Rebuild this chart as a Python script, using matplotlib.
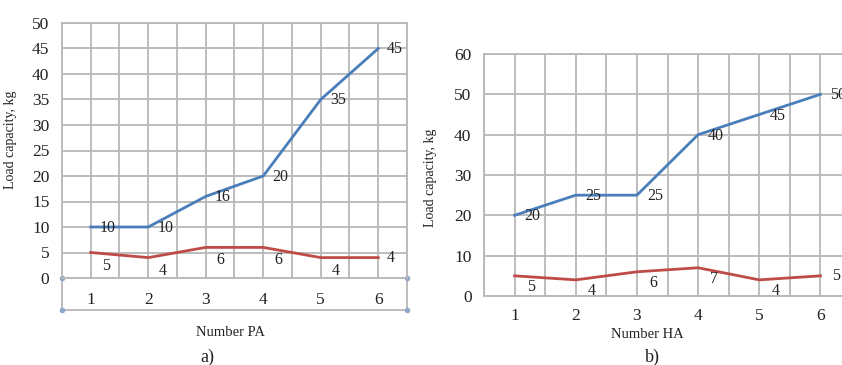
import matplotlib
matplotlib.use("Agg")
import matplotlib.pyplot as plt
import numpy as np

plt.rcParams['font.family'] = ['Liberation Serif', 'DejaVu Serif']

categories = [1, 2, 3, 4, 5, 6]
pa_blue = [10, 10, 16, 20, 35, 45]
pa_red = [5, 4, 6, 6, 4, 4]
ha_blue = [20, 25, 25, 40, 45, 50]
ha_red = [5, 4, 6, 7, 4, 5]

BLUE = '#4a7ebb'
RED = '#be4b48'
GRID = '#b8b8b8'
TXT = '#222222'

W, H = 842, 365
fig = plt.figure(figsize=(W / 100, H / 100), dpi=100)


def px_axes(x0, y0, x1, y1):
    return fig.add_axes([x0 / W, 1 - y1 / H, (x1 - x0) / W, (y1 - y0) / H])


def style(ax, ymax, ystep, xpad):
    ax.set_xlim(0.5, 6.5)
    ax.set_ylim(0, ymax)
    ax.set_yticks(np.arange(0, ymax + 0.1, ystep))
    ax.set_xticks(categories)
    ax.set_xticks(np.arange(0.5, 6.6, 0.5), minor=True)
    ax.grid(True, which='both', axis='x', color=GRID, lw=1.3)
    ax.grid(True, which='major', axis='y', color=GRID, lw=1.3)
    ax.set_axisbelow(True)
    for s in ax.spines.values():
        s.set_color(GRID)
        s.set_linewidth(1.3)
    ax.tick_params(which='both', length=0)
    ax.tick_params(axis='y', pad=9, labelsize=12.5, labelcolor=TXT)
    ax.tick_params(axis='x', pad=xpad, labelsize=12.5, labelcolor=TXT)


def label_points(ax, xs, ys, offsets):
    for x, y, (dx, dy) in zip(xs, ys, offsets):
        ax.annotate(str(y), (x, y), xytext=(dx, dy), textcoords='offset pixels',
                    ha='center', va='center', fontsize=11.5, color=TXT)


# ---- left chart (a)
axL = px_axes(62, 23, 407, 278)
style(axL, 50, 5, 10)
axL.plot(categories, pa_blue, color=BLUE, lw=2.0)
axL.plot(categories, pa_red, color=RED, lw=2.0)
label_points(axL, categories, pa_blue, [(17, -1)] * 6)
label_points(axL, categories, pa_red, [(15, -13)] * 5 + [(13, 0)])
axL.set_ylabel('Load capacity, kg', fontsize=10, color=TXT)
axL.yaxis.set_label_coords(-0.13, 0.54)
# box below the plot
bb = -32 / 255
axL.plot([0, 0, 1, 1], [0, bb, bb, 0], transform=axL.transAxes, color=GRID,
         lw=1.3, clip_on=False)
axL.plot([0, 1, 0, 1], [0, 0, bb, bb], transform=axL.transAxes, ls='none',
         marker='o', ms=3, color='#8fa8c8', clip_on=False)
fig.text(230 / W, 1 - 333 / H, 'Number PA', ha='center', va='center',
         fontsize=10.5, color=TXT)
fig.text(207 / W, 1 - 357 / H, 'a)', ha='center', va='center',
         fontsize=13, color=TXT)

# ---- right chart (b)
axR = px_axes(484, 54, 851, 296)
style(axR, 60, 10, 9)
axR.plot(categories, ha_blue, color=BLUE, lw=2.0)
axR.plot(categories, ha_red, color=RED, lw=2.0)
label_points(axR, categories, ha_blue, [(18, -1)] * 6)
label_points(axR, categories, ha_red, [(16, -11)] * 5 + [(16, 0)])
axR.set_ylabel('Load capacity, kg', fontsize=10, color=TXT)
axR.yaxis.set_label_coords(-0.128, 0.49)
fig.text(647 / W, 1 - 335 / H, 'Number HA', ha='center', va='center',
         fontsize=10.5, color=TXT)
fig.text(652 / W, 1 - 357 / H, 'b)', ha='center', va='center',
         fontsize=13, color=TXT)

fig.savefig('out.png', dpi=100)
